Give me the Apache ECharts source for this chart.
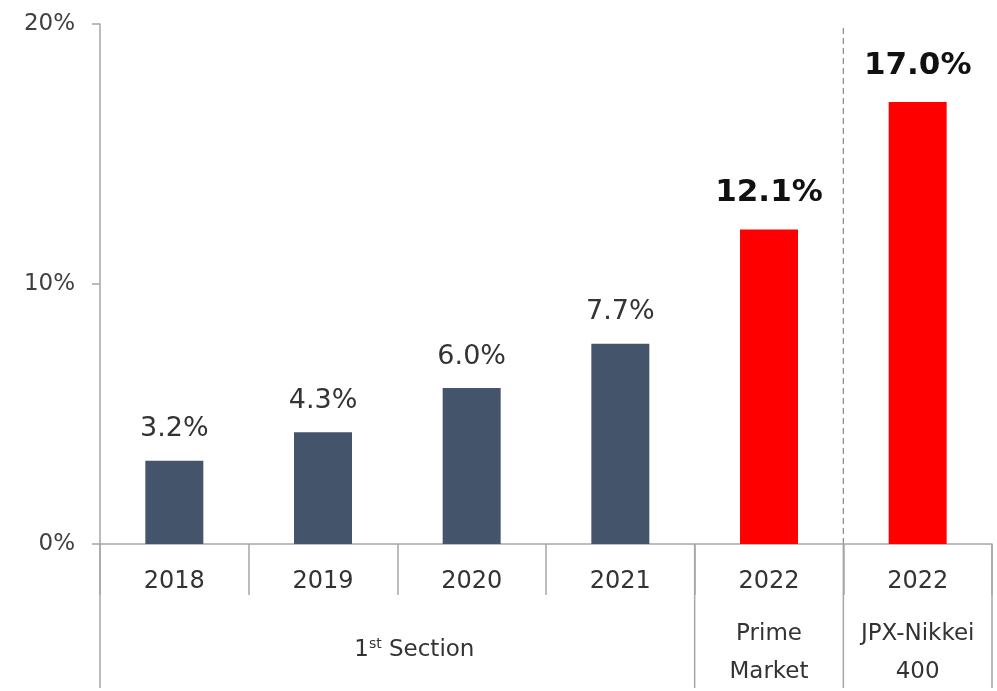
<!DOCTYPE html>
<html>
<head>
<meta charset="UTF-8">
<title>Share chart</title>
<script src="https://cdn.jsdelivr.net/npm/echarts@6/dist/echarts.min.js"></script>
<style>html,body{margin:0;padding:0;background:#fff;}</style>
</head>
<body>
<div id="container" style="width:997px;height:691px;"></div>
<script>
// data
var years = ['2018', '2019', '2020', '2021', '2022', '2022'];
var subLabels = ['', '', '', '', 'Prime\nMarket', 'JPX-Nikkei\n400'];
var values = [3.2, 4.3, 6.0, 7.7, 12.1, 17.0];
var yTicks = [0, 10, 20];
var highlight = [false, false, false, false, true, true];

var categories = years.map(function (y, i) { return y + ' ' + subLabels[i]; });

var axisColor = '#A6A6A6';
var font = 'DejaVu Sans, Verdana, sans-serif';

var barData = values.map(function (v, i) {
    var hot = highlight[i];
    return {
        value: v,
        itemStyle: { color: hot ? '#FF0000' : '#44546A' },
        label: hot ? { fontSize: 31, fontWeight: 'bold', color: '#111', distance: 21 }
                   : { fontSize: 27, color: '#333', distance: 18 }
    };
});

var mychart = echarts.init(document.getElementById('container'));

var option = {
    animation: false,
    grid: { left: 100, right: 5, top: 24, bottom: 147 },
    xAxis: {
        type: 'category',
        data: categories,
        axisLine: { lineStyle: { color: axisColor, width: 1.5 } },
        axisTick: { show: true, length: 51, lineStyle: { color: axisColor, width: 1.5 } },
        axisLabel: {
            margin: 5,
            interval: 0,
            formatter: function (v, i) {
                var s = '{y|' + years[i] + '}';
                if (subLabels[i]) {
                    subLabels[i].split('\n').forEach(function (line) { s += '\n{s|' + line + '}'; });
                }
                return s;
            },
            rich: {
                y: { fontSize: 24, fontFamily: font, color: '#333', lineHeight: 66 },
                s: { fontSize: 23, fontFamily: font, color: '#333', lineHeight: 38 }
            }
        }
    },
    yAxis: {
        type: 'value',
        min: yTicks[0],
        max: yTicks[yTicks.length - 1],
        interval: yTicks[1] - yTicks[0],
        splitLine: { show: false },
        axisLine: { show: true, lineStyle: { color: axisColor, width: 1.5 } },
        axisTick: { show: true, length: 8, lineStyle: { color: axisColor, width: 1.5 } },
        axisLabel: {
            margin: 25,
            fontSize: 23,
            fontFamily: font,
            color: '#404040',
            formatter: '{value}%'
        }
    },
    series: [{
        type: 'bar',
        barWidth: 58,
        data: barData,
        label: {
            show: true,
            position: 'top',
            fontFamily: font,
            formatter: function (p) { return p.value.toFixed(1) + '%'; }
        }
    }]
};

mychart.setOption(option);

// separators below the axis and the dashed divider, placed from the axis scale
var c0 = mychart.convertToPixel({ xAxisIndex: 0 }, 0);
var c1 = mychart.convertToPixel({ xAxisIndex: 0 }, 1);
var bw = c1 - c0;
var y0 = mychart.convertToPixel({ yAxisIndex: 0 }, yTicks[0]);
var yTop = mychart.convertToPixel({ yAxisIndex: 0 }, yTicks[yTicks.length - 1]);
var bottomY = 688;
function edge(i) { return c0 - bw / 2 + i * bw; }

var lines = [0, 4, 5, 6].map(function (i) {
    return {
        type: 'line',
        shape: { x1: edge(i), y1: y0, x2: edge(i), y2: bottomY },
        style: { stroke: axisColor, lineWidth: 1.5 }
    };
});
lines.push({
    type: 'line',
    shape: { x1: edge(5), y1: yTop + 4, x2: edge(5), y2: y0 },
    style: { stroke: '#888', lineWidth: 1.2, lineDash: [6, 4] }
});
lines.push({
    type: 'text',
    x: (edge(0) + edge(4)) / 2 + 17,
    y: 650,
    style: {
        text: '{a|1}{sup|st}{a| Section}',
        align: 'center',
        verticalAlign: 'middle',
        rich: {
            a: { fontSize: 23, fontFamily: font, fill: '#333' },
            sup: { fontSize: 14, fontFamily: font, fill: '#333', verticalAlign: 'top', padding: [0, 0, 11, 0] }
        }
    }
});

mychart.setOption({ graphic: lines });
</script>
</body>
</html>
